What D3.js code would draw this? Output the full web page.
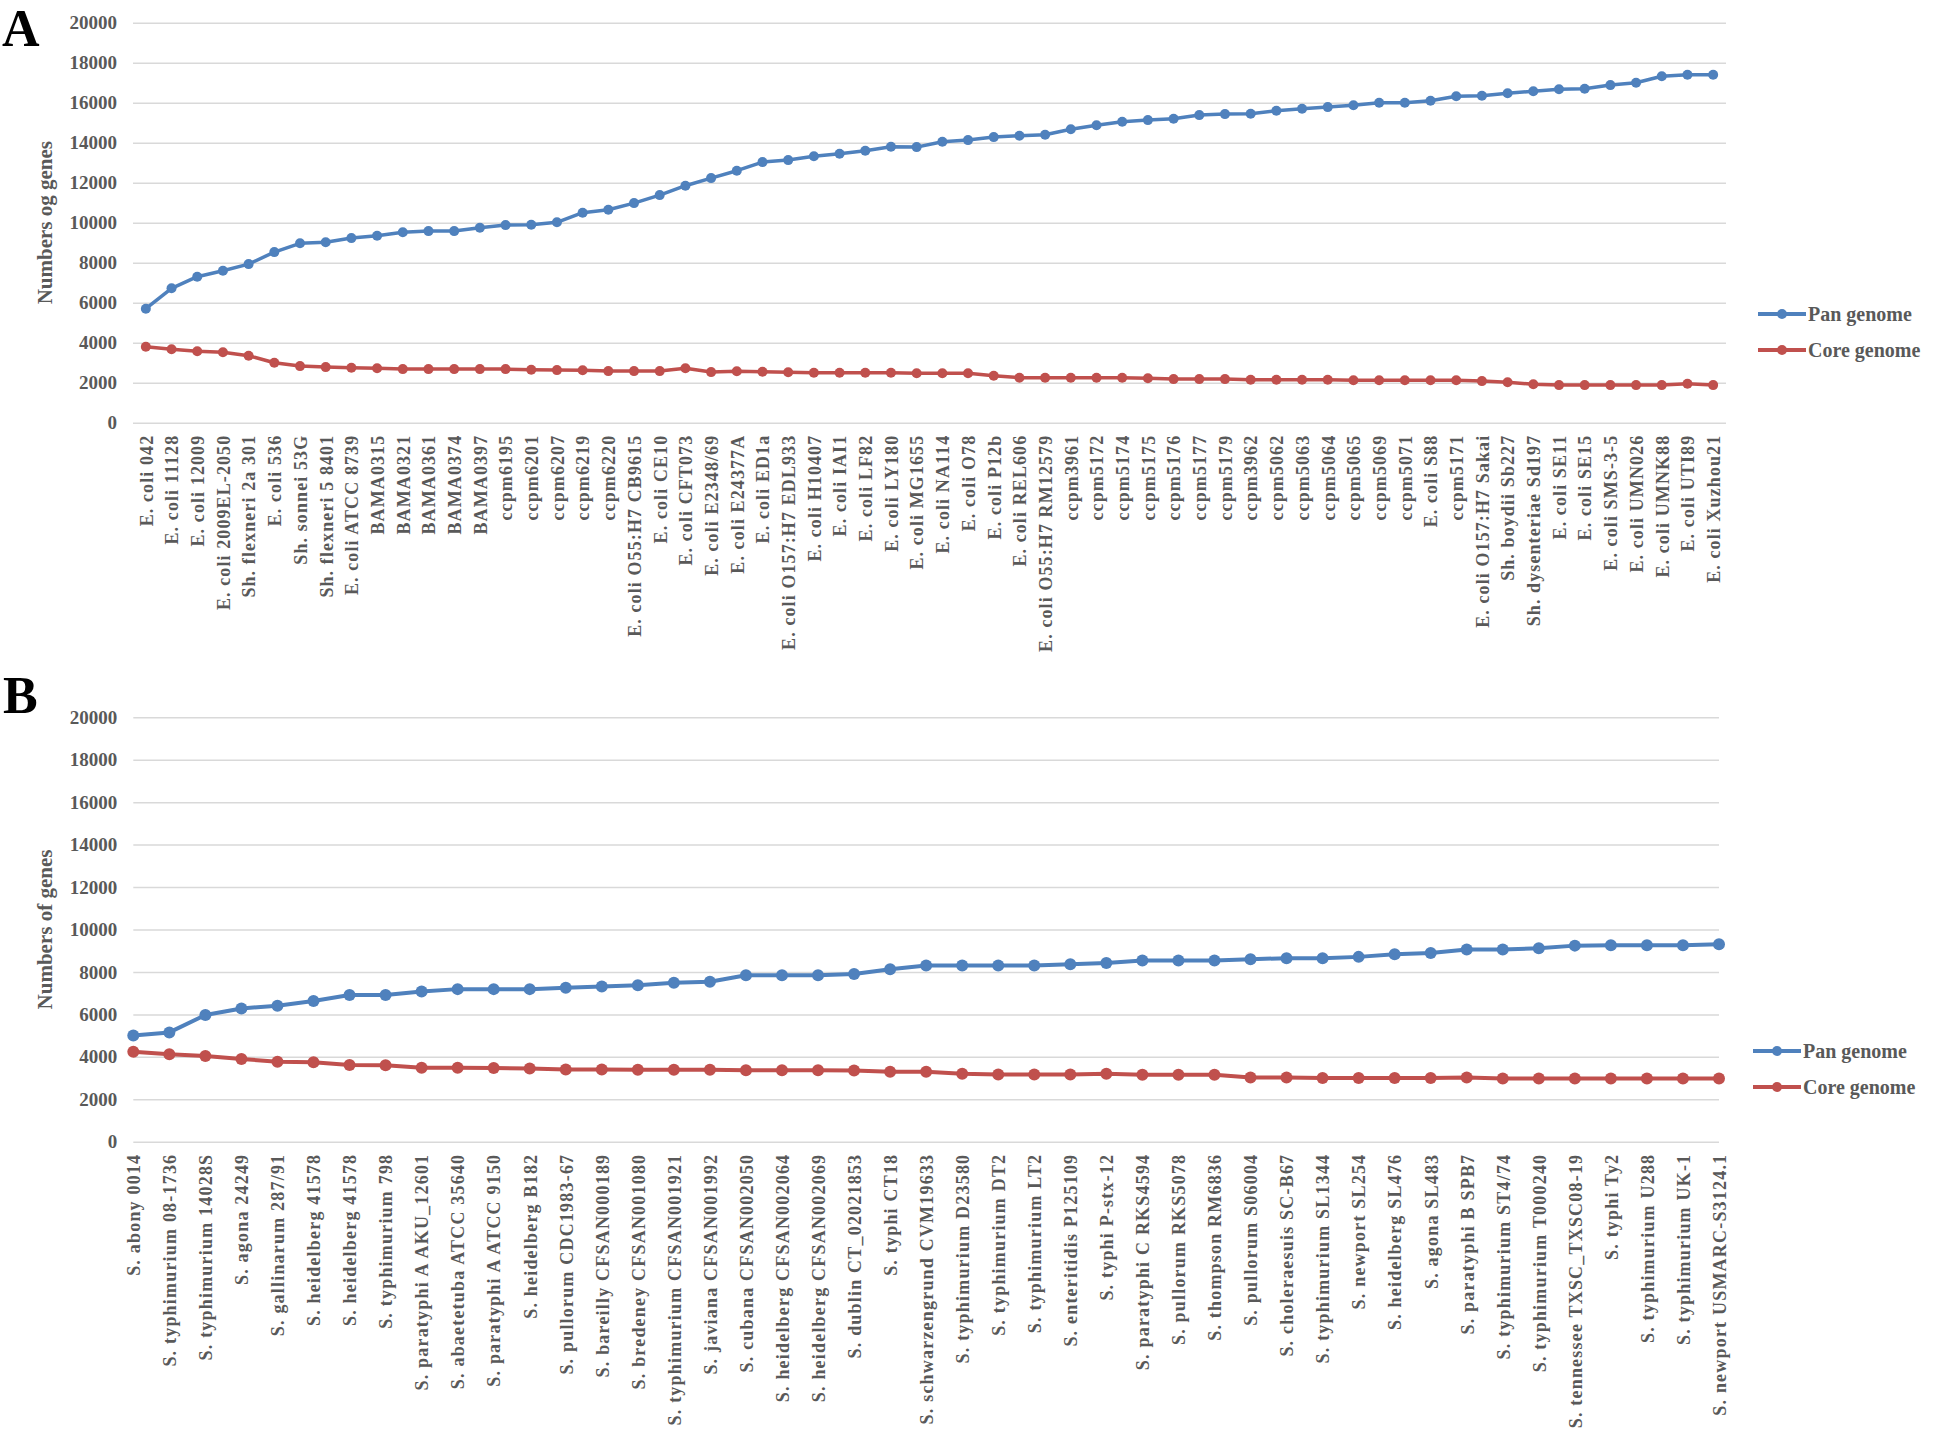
<!DOCTYPE html>
<html>
<head>
<meta charset="utf-8">
<script src="https://cdn.jsdelivr.net/npm/d3@7"></script>
<style>
  body { margin: 0; background: #fff; }
  svg { display: block; }
  text { font-family: "Liberation Serif", "Times New Roman", serif; font-weight: bold; }
</style>
</head>
<body>
<svg id="chart" width="1946" height="1431"></svg>
<script>
// panel A: E. coli / Shigella genomes
const catsA = [
  'E. coli 042', 'E. coli 11128', 'E. coli 12009', 'E. coli 2009EL-2050', 'Sh. flexneri 2a 301',
  'E. coli 536', 'Sh. sonnei 53G', 'Sh. flexneri 5 8401', 'E. coli ATCC 8739', 'BAMA0315',
  'BAMA0321', 'BAMA0361', 'BAMA0374', 'BAMA0397', 'ccpm6195', 'ccpm6201', 'ccpm6207',
  'ccpm6219', 'ccpm6220', 'E. coli O55:H7 CB9615', 'E. coli CE10', 'E. coli CFT073',
  'E. coli E2348/69', 'E. coli E24377A', 'E. coli ED1a', 'E. coli O157:H7 EDL933',
  'E. coli H10407', 'E. coli IAI1', 'E. coli LF82', 'E. coli LY180', 'E. coli MG1655',
  'E. coli NA114', 'E. coli O78', 'E. coli P12b', 'E. coli REL606', 'E. coli O55:H7 RM12579',
  'ccpm3961', 'ccpm5172', 'ccpm5174', 'ccpm5175', 'ccpm5176', 'ccpm5177', 'ccpm5179',
  'ccpm3962', 'ccpm5062', 'ccpm5063', 'ccpm5064', 'ccpm5065', 'ccpm5069', 'ccpm5071',
  'E. coli S88', 'ccpm5171', 'E. coli O157:H7 Sakai', 'Sh. boydii Sb227', 'Sh. dysenteriae Sd197',
  'E. coli SE11', 'E. coli SE15', 'E. coli SMS-3-5', 'E. coli UMN026', 'E. coli UMNK88',
  'E. coli UTI89', 'E. coli Xuzhou21'
];
const panA = [
  5700, 6720, 7300, 7600, 7930, 8530, 8970, 9020, 9230, 9350,
  9520, 9580, 9580, 9750, 9880, 9900, 10020, 10500, 10650, 10980,
  11380, 11850, 12230, 12600, 13030, 13130, 13320, 13450, 13600, 13800,
  13780, 14050, 14130, 14280, 14350, 14400, 14670, 14870, 15050, 15130,
  15200, 15380, 15430, 15450, 15600, 15700, 15780, 15870, 16000, 16000,
  16100, 16320, 16350, 16470, 16570, 16670, 16700, 16880, 17000, 17320,
  17400, 17400
];
const coreA = [
  3800, 3670, 3570, 3520, 3350, 3000, 2830, 2780, 2750, 2720,
  2680, 2680, 2680, 2680, 2680, 2650, 2630, 2620, 2580, 2580,
  2580, 2720, 2530, 2570, 2550, 2520, 2500, 2500, 2500, 2500,
  2470, 2470, 2470, 2350, 2250, 2250, 2250, 2250, 2250, 2220,
  2180, 2180, 2180, 2150, 2150, 2150, 2150, 2120, 2120, 2120,
  2120, 2120, 2080, 2020, 1920, 1880, 1880, 1880, 1880, 1880,
  1950, 1880
];

// panel B: Salmonella genomes
const catsB = [
  'S. abony 0014', 'S. typhimurium  08-1736', 'S. typhimurium  14028S', 'S. agona 24249',
  'S. gallinarum 287/91', 'S. heidelberg 41578', 'S. heidelberg 41578', 'S. typhimurium  798',
  'S. paratyphi A AKU_12601', 'S. abaetetuba ATCC 35640', 'S. paratyphi A ATCC 9150',
  'S. heidelberg B182', 'S. pullorum CDC1983-67', 'S. bareilly CFSAN000189',
  'S. bredeney CFSAN001080', 'S. typhimurium  CFSAN001921', 'S. javiana CFSAN001992',
  'S. cubana CFSAN002050', 'S. heidelberg CFSAN002064', 'S. heidelberg CFSAN002069',
  'S. dublin CT_02021853', 'S. typhi CT18', 'S. schwarzengrund CVM19633',
  'S. typhimurium  D23580', 'S. typhimurium  DT2', 'S. typhimurium  LT2',
  'S. enteritidis P125109', 'S. typhi P-stx-12', 'S. paratyphi C RKS4594',
  'S. pullorum  RKS5078', 'S. thompson RM6836', 'S. pullorum  S06004',
  'S. choleraesuis SC-B67', 'S. typhimurium SL1344', 'S. newport SL254',
  'S. heidelberg SL476', 'S. agona SL483', 'S. paratyphi B SPB7', 'S. typhimurium ST4/74',
  'S. typhimurium  T000240', 'S. tennessee TXSC_TXSC08-19', 'S. typhi Ty2',
  'S. typhimurium  U288', 'S. typhimurium  UK-1', 'S. newport USMARC-S3124.1'
];
const panB = [
  5000, 5150, 5970, 6280, 6410, 6630, 6910, 6910, 7080, 7190,
  7190, 7190, 7250, 7310, 7370, 7490, 7540, 7840, 7840, 7840,
  7900, 8130, 8300, 8300, 8300, 8300, 8360, 8420, 8540, 8540,
  8540, 8600, 8650, 8650, 8710, 8830, 8890, 9060, 9060, 9120,
  9240, 9260, 9260, 9260, 9300
];
const coreB = [
  4240, 4120, 4040, 3900, 3770, 3740, 3610, 3600, 3480, 3480,
  3470, 3450, 3400, 3400, 3390, 3390, 3390, 3370, 3370, 3370,
  3360, 3300, 3300, 3200, 3170, 3170, 3170, 3200, 3150, 3150,
  3150, 3030, 3020, 3000, 3000, 3000, 3000, 3020, 2980, 2980,
  2980, 2980, 2980, 2980, 2980
];

const yTicks = d3.range(0, 20001, 2000);
const seriesNames = ['Pan genome', 'Core genome'];
const colors = ['#4f81bd', '#c0504d'];

const svg = d3.select('#chart');

function drawPanel(p) {
  const g = svg.append('g');
  const x = d3.scalePoint()
    .domain(d3.range(p.cats.length))
    .range([p.left, p.right])
    .padding(p.pad);
  const y = d3.scaleLinear().domain([0, 20000]).range([p.bottom, p.top]);

  // gridlines + tick labels
  const yAxis = d3.axisLeft(y)
    .tickValues(yTicks)
    .tickSize(-(p.right - p.left))
    .tickPadding(16)
    .tickFormat(d3.format('d'));
  const ya = g.append('g')
    .attr('transform', `translate(${p.left},0)`)
    .call(yAxis);
  ya.select('.domain').remove();
  ya.selectAll('line').attr('stroke', '#d9d9d9').attr('stroke-width', 1.5);
  ya.selectAll('text')
    .attr('fill', '#595959')
    .style('font-size', '19px');

  // category labels
  const xAxis = d3.axisBottom(x).tickSize(0).tickPadding(0)
    .tickFormat(i => p.cats[i]);
  const xa = g.append('g')
    .attr('transform', `translate(0,${p.bottom})`)
    .call(xAxis);
  xa.select('.domain').remove();
  xa.selectAll('text')
    .attr('transform', 'rotate(-90)')
    .attr('text-anchor', 'end')
    .attr('x', -p.labelGap)
    .attr('y', 0)
    .attr('dy', '0.35em')
    .attr('fill', '#595959')
    .style('font-size', '18px')
    .style('letter-spacing', p.spacing + 'px');

  // series
  [p.pan, p.core].forEach((vals, s) => {
    const line = d3.line().x((d, i) => x(i)).y(d => y(d));
    g.append('path')
      .datum(vals)
      .attr('d', line)
      .attr('fill', 'none')
      .attr('stroke', colors[s])
      .attr('stroke-width', p.lineW)
      .attr('stroke-linejoin', 'round');
    g.selectAll(null)
      .data(vals)
      .enter()
      .append('circle')
      .attr('cx', (d, i) => x(i))
      .attr('cy', d => y(d))
      .attr('r', p.r)
      .attr('fill', colors[s]);
  });

  // y title
  g.append('text')
    .attr('transform', `translate(${p.titleX},${(p.top + p.bottom) / 2}) rotate(-90)`)
    .attr('text-anchor', 'middle')
    .attr('fill', '#595959')
    .style('font-size', '21px')
    .text(p.title);

  // panel letter
  g.append('text')
    .attr('x', p.letterX)
    .attr('y', p.letterY)
    .attr('fill', '#000')
    .style('font-size', '52px')
    .text(p.letter);

  // legend
  const lg = g.append('g').attr('transform', `translate(${p.legX},${p.legY})`);
  seriesNames.forEach((name, s) => {
    const row = lg.append('g').attr('transform', `translate(0,${s * p.legStep})`);
    row.append('line')
      .attr('x1', 0).attr('x2', 48)
      .attr('stroke', colors[s])
      .attr('stroke-width', 4);
    row.append('circle').attr('cx', 24).attr('r', 5).attr('fill', colors[s]);
    row.append('text')
      .attr('x', 50)
      .attr('dy', '0.35em')
      .attr('fill', '#595959')
      .style('font-size', '20px')
      .text(name);
  });
}

drawPanel({
  cats: catsA, pan: panA, core: coreA,
  left: 133, right: 1726, top: 22.7, bottom: 422.7, pad: 0.5,
  labelGap: 12, spacing: 1.1, lineW: 3.5, r: 5,
  title: 'Numbers og genes', titleX: 52,
  letter: 'A', letterX: 2, letterY: 46,
  legX: 1758, legY: 314, legStep: 36
});

drawPanel({
  cats: catsB, pan: panB, core: coreB,
  left: 133.3, right: 1719, top: 717.3, bottom: 1141.7, pad: 0,
  labelGap: 12, spacing: 1.2, lineW: 4, r: 6,
  title: 'Numbers of genes', titleX: 52,
  letter: 'B', letterX: 3, letterY: 713,
  legX: 1753, legY: 1051, legStep: 36
});
</script>
</body>
</html>
